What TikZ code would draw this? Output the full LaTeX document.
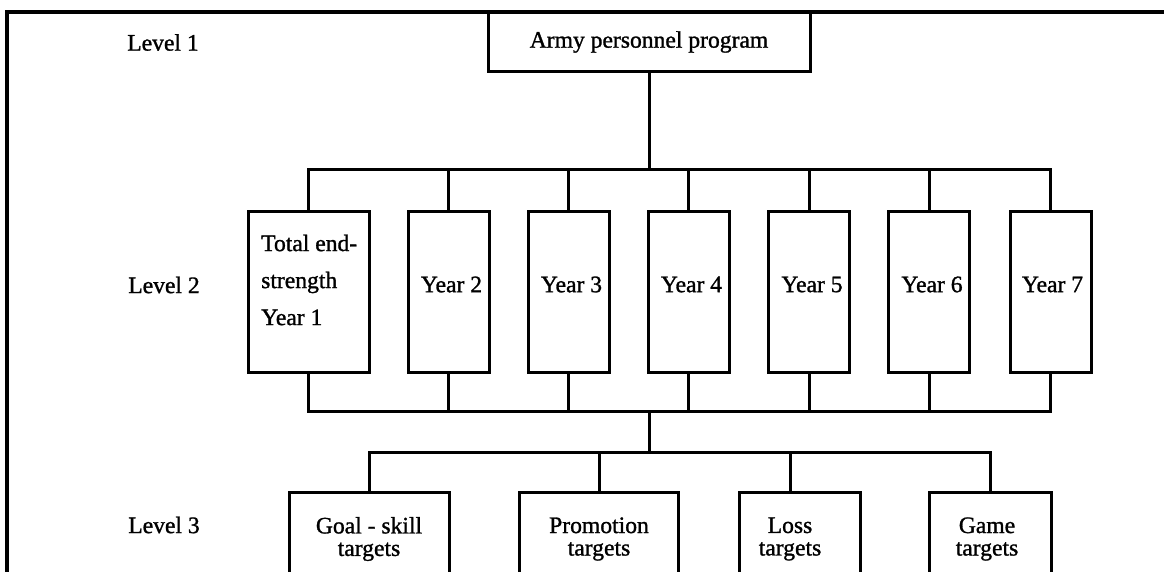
\documentclass[tikz,border=0pt]{standalone}
\usepackage{fontspec}
\setmainfont{Liberation Serif}[FakeBold=1.2]
\begin{document}
\begin{tikzpicture}[x=1pt,y=-1pt,
  every node/.style={font=\fontsize{23.6}{37}\selectfont},
  box/.style={draw,line width=3pt,rectangle,inner sep=0pt},
  yearbox/.style={box,minimum width=81pt,minimum height=161pt},
  tgtbox/.style={box,minimum height=130pt},
  lbl/.style={inner sep=0pt,align=center},
  tgtlbl/.style={lbl,font=\fontsize{23.6}{22.5}\selectfont},
  link/.style={line width=3pt}]
\useasboundingbox (0,0) rectangle (1164,571);
\clip (0,0) rectangle (1164,571);

% outer frame (open to the right and below)
\draw[line width=4pt] (7,620) -- (7,12) -- (1180,12);

% level captions
\node[lbl] (lv1) at (163,42.5) {Level 1};
\node[lbl] (lv2) at (164,285) {Level 2};
\node[lbl] (lv3) at (164,525) {Level 3};

% level 1
\node[box,minimum width=322pt,minimum height=59pt] (army) at (649,42) {Army personnel program};

% level 2
\node[box,minimum width=121pt,minimum height=161pt] (y1) at (308.5,291.5) {};
\node[lbl,align=left,anchor=west] (y1t) at (261,280) {Total end-\\strength\\Year 1};
\node[yearbox,label={[lbl,xshift=3pt,yshift=7pt]center:Year 2}] (y2) at (448.5,291.5) {};
\node[yearbox,label={[lbl,xshift=3pt,yshift=7pt]center:Year 3}] (y3) at (568.5,291.5) {};
\node[yearbox,label={[lbl,xshift=3pt,yshift=7pt]center:Year 4}] (y4) at (688.5,291.5) {};
\node[yearbox,label={[lbl,xshift=3pt,yshift=7pt]center:Year 5}] (y5) at (809,291.5) {};
\node[yearbox,label={[lbl,xshift=3pt,yshift=7pt]center:Year 6}] (y6) at (929,291.5) {};
\node[yearbox,label={[lbl,xshift=2pt,yshift=7pt]center:Year 7}] (y7) at (1050.5,291.5) {};

% level 3
\node[tgtbox,minimum width=160pt,label={[tgtlbl,yshift=18.5pt]center:{Goal - skill\\targets}}] (goal) at (369,557.5) {};
\node[tgtbox,minimum width=159pt,label={[tgtlbl,yshift=18.5pt]center:{Promotion\\targets}}] (promo) at (599,557.5) {};
\node[tgtbox,minimum width=121pt,label={[tgtlbl,xshift=-9.5pt,yshift=18.5pt]center:{Loss\\targets}}] (loss) at (799.5,557.5) {};
\node[tgtbox,minimum width=122pt,label={[tgtlbl,xshift=-3pt,yshift=18.5pt]center:{Game\\targets}}] (game) at (990,557.5) {};

% junctions of the connector buses
\coordinate (b1) at (649,169);
\coordinate (b2) at (649,411.5);
\coordinate (b3) at (649,452);
\coordinate (lossdrop) at (790,452);

% connectors
\draw[link] (army.south) -- (b1);
\draw[link] (y1.north) |- (b1) -| (y7.north);
\foreach \k in {2,...,6} \draw[link] (y\k.north) -- (y\k.north |- b1);
\draw[link] (y1.south) |- (b2) -| (y7.south);
\foreach \k in {2,...,6} \draw[link] (y\k.south) -- (y\k.south |- b2);
\draw[link] (b2) -- (b3);
\draw[link] (goal.north) |- (b3) -| (game.north);
\draw[link] (promo.north) -- (promo.north |- b3);
\draw[link] (lossdrop |- loss.north) -- (lossdrop);
\end{tikzpicture}
\end{document}
